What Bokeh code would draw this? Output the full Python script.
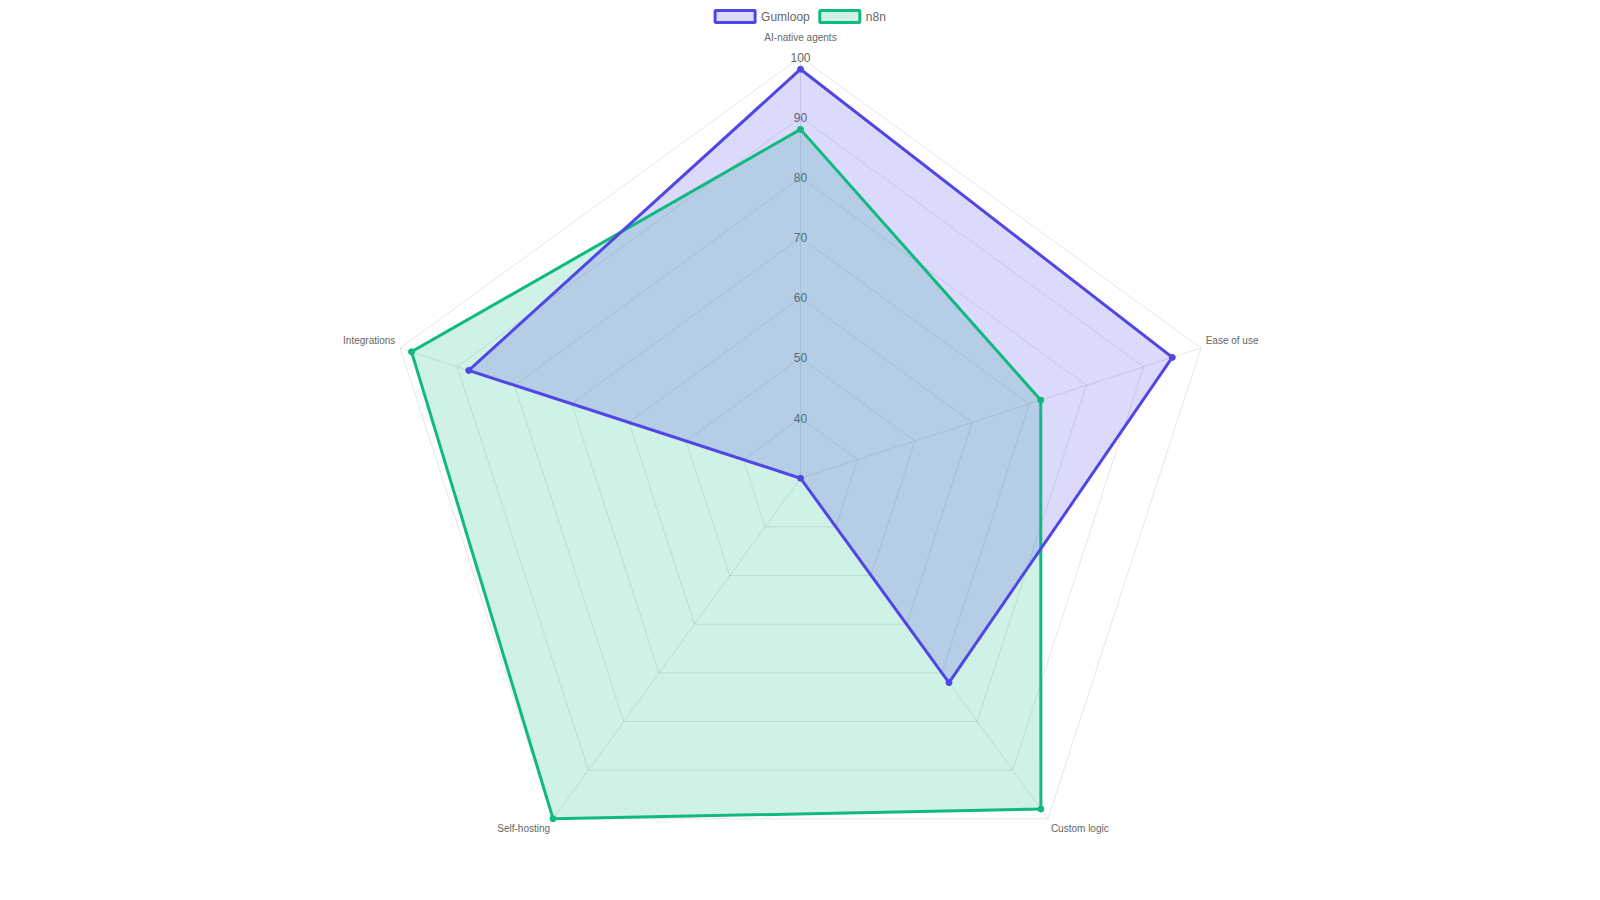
import math
from bokeh.plotting import figure
from bokeh.models import Range1d
from bokeh.core.properties import value
from bokeh.embed import file_html
from bokeh.resources import INLINE

# ---- data ----
categories = ["AI-native agents", "Ease of use", "Custom logic", "Self-hosting", "Integrations"]
series_names = ["Gumloop", "n8n"]
gumloop_values = [98, 95, 72, 30, 88]
n8n_values = [88, 72, 98, 100, 98]
tick_values = [40, 50, 60, 70, 80, 90, 100]
scale_min = 30
scale_max = 100

# ---- style ----
FONT = "Liberation Sans"
TEXT_COLOR = "#666666"
GRID_COLOR = "rgba(0,0,0,0.1)"
colors = {"Gumloop": "#4F46E5", "n8n": "#10B981"}
fills = {"Gumloop": "rgba(79,70,229,0.2)", "n8n": "rgba(16,185,129,0.2)"}

W, H = 1584, 884
CX, CY = 800.0, 477.7          # position of chart centre inside the figure
R = 421.0                        # pixel radius of scale_max

p = figure(width=W, height=H, output_backend="svg", toolbar_location=None,
           x_range=Range1d(-CX, W - CX),
           y_range=Range1d(CY - H, CY),
           min_border=0)
p.axis.visible = False
p.grid.visible = False
p.outline_line_color = None
p.background_fill_color = "white"
p.border_fill_color = "white"

n = len(categories)
angles = [2 * math.pi * i / n for i in range(n)]  # from top, clockwise


def rad(v):
    return (v - scale_min) / (scale_max - scale_min) * R


def xy(r, a):
    return r * math.sin(a), r * math.cos(a)


# grid rings
for t in tick_values:
    pts = [xy(rad(t), a) for a in angles]
    xs = [q[0] for q in pts] + [pts[0][0]]
    ys = [q[1] for q in pts] + [pts[0][1]]
    p.line(xs, ys, line_color=GRID_COLOR, line_width=1)

# angle lines
for a in angles:
    ex, ey = xy(R, a)
    p.line([0, ex], [0, ey], line_color=GRID_COLOR, line_width=1)

# tick labels
p.text(x=[0] * len(tick_values), y=[rad(t) for t in tick_values],
       text=[str(t) for t in tick_values], text_align="center", text_baseline="middle",
       text_font=value(FONT), text_font_size="12px", text_color=TEXT_COLOR)

# point labels
for i, (cat, a) in enumerate(zip(categories, angles)):
    deg = math.degrees(a)
    d = R + 5 + (9.2 if i == 0 else 0)
    lx, ly = xy(d, a)
    if deg == 0 or deg == 180:
        align = "center"
    elif deg < 180:
        align = "left"
    else:
        align = "right"
    if deg < 90 or deg > 270:
        ly = ly + 6
    else:
        ly = ly - 6
    p.text(x=[lx], y=[ly], text=[cat], text_align=align, text_baseline="middle",
           text_font=value(FONT), text_font_size="10px", text_color=TEXT_COLOR)

# datasets: fills first, then lines (n8n below, Gumloop on top)
series = {"Gumloop": gumloop_values, "n8n": n8n_values}
geom = {}
for name in reversed(series_names):
    vals = series[name]
    pts = [xy(rad(v), a) for v, a in zip(vals, angles)]
    geom[name] = ([q[0] for q in pts], [q[1] for q in pts])

for name in reversed(series_names):
    xs, ys = geom[name]
    p.patch(xs, ys, fill_color=fills[name], line_color=None)

for name in reversed(series_names):
    xs, ys = geom[name]
    p.line(xs + [xs[0]], ys + [ys[0]], line_color=colors[name], line_width=3,
           line_join="miter")
    p.scatter(xs, ys, size=6, fill_color=colors[name], line_color=colors[name], line_width=1)

# legend (top centre)
leg_y = CY - 16
leg_items = [("Gumloop", 714.6), ("n8n", 819.3)]
for name, sx in leg_items:
    bx = sx - CX
    p.rect(x=[bx + 20], y=[leg_y], width=40, height=12,
           fill_color=fills[name], line_color=colors[name], line_width=3)
    p.text(x=[bx + 46], y=[leg_y], text=[name], text_align="left", text_baseline="middle",
           text_font=value(FONT), text_font_size="12px", text_color=TEXT_COLOR)

open("out.html", "w").write(file_html(p, INLINE))
